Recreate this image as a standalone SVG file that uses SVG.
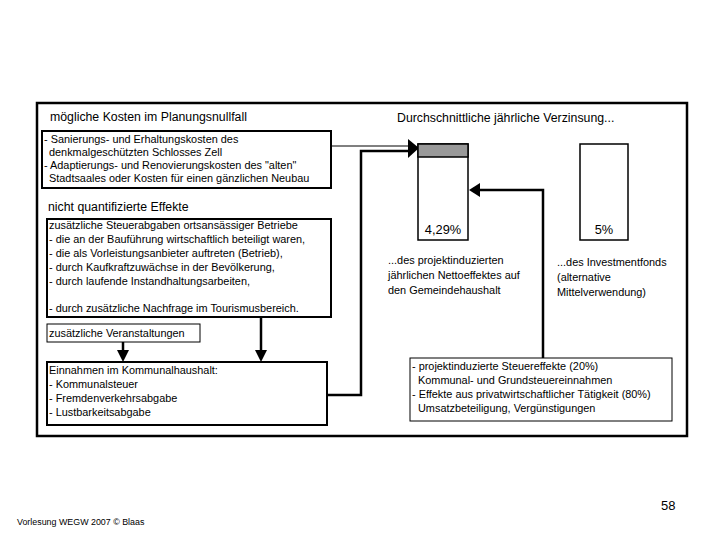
<svg xmlns="http://www.w3.org/2000/svg" width="720" height="540" viewBox="0 0 720 540">
<style>
text{font-family:"Liberation Sans",Arial,sans-serif;fill:#000}
.t{font-size:10.9px}
.h{font-size:12.3px}
.box{fill:#fff;stroke:#000;stroke-width:2}
.thin{fill:#fff;stroke:#000;stroke-width:1}
.ln{fill:none;stroke:#000}
</style>
<rect width="720" height="540" fill="#fff"/>
<rect id="frame" x="37" y="103" width="650" height="333" fill="#fff" stroke="#000" stroke-width="2.5"/>
<g id="titles">
<text class="h" x="50" y="121">mögliche Kosten im Planungsnullfall</text>
<text class="h" x="48" y="211">nicht quantifizierte Effekte</text>
<text class="h" x="397" y="122">Durchschnittliche jährliche Verzinsung...</text>
</g>
<g id="connectors">
<path class="ln" stroke-width="1" d="M331 146 H410"/>
<path class="ln" stroke-width="2.5" d="M327 395 H361 V151 H410"/>
<polygon points="408,139 419,148 408,158"/>
<path class="ln" stroke-width="2.5" d="M543 358 V190 H478"/>
<polygon points="469,190 480,183 480,197"/>
<path class="ln" stroke-width="2.5" d="M123 342 V352"/>
<polygon points="117,350 129,350 123,362"/>
<path class="ln" stroke-width="2.5" d="M261 317 V352"/>
<polygon points="255,350 267,350 261,362"/>
</g>
<g id="kosten">
<rect class="box" x="42" y="131" width="289" height="57"/>
<text class="t" x="44" y="143">- Sanierungs- und Erhaltungskosten des</text>
<text class="t" x="49" y="156">denkmalgeschützten Schlosses Zell</text>
<text class="t" x="44" y="169">- Adaptierungs- und Renovierungskosten des "alten"</text>
<text class="t" x="49" y="182">Stadtsaales oder Kosten für einen gänzlichen Neubau</text>
</g>
<g id="effekte">
<rect class="box" x="47" y="219" width="284" height="98"/>
<text class="t" x="49" y="229">zusätzliche Steuerabgaben ortsansässiger Betriebe</text>
<text class="t" x="49" y="243">- die an der Bauführung wirtschaftlich beteiligt waren,</text>
<text class="t" x="49" y="257">- die als Vorleistungsanbieter auftreten (Betrieb),</text>
<text class="t" x="49" y="271">- durch Kaufkraftzuwächse in der Bevölkerung,</text>
<text class="t" x="49" y="285">- durch laufende Instandhaltungsarbeiten,</text>
<text class="t" x="49" y="312">- durch zusätzliche Nachfrage im Tourismusbereich.</text>
</g>
<g id="veranstaltungen">
<rect class="thin" x="47" y="324" width="153" height="18"/>
<text class="t" x="49" y="337">zusätzliche Veranstaltungen</text>
</g>
<g id="einnahmen">
<rect class="box" x="47" y="362" width="280" height="63"/>
<text class="t" x="49" y="374">Einnahmen im Kommunalhaushalt:</text>
<text class="t" x="49" y="388">- Kommunalsteuer</text>
<text class="t" x="49" y="402">- Fremdenverkehrsabgabe</text>
<text class="t" x="49" y="416">- Lustbarkeitsabgabe</text>
</g>
<g id="bar1">
<rect x="418" y="144" width="50" height="96" fill="#fff" stroke="#000" stroke-width="1.5"/>
<rect x="418" y="144" width="50" height="13" fill="#999" stroke="#000" stroke-width="1.5"/>
<text x="443" y="234" font-size="12.8" text-anchor="middle">4,29%</text>
</g>
<g id="bar2">
<rect x="580" y="144" width="48" height="96" fill="#fff" stroke="#000" stroke-width="1.5"/>
<text x="604" y="234" font-size="12.8" text-anchor="middle">5%</text>
</g>
<g id="label1">
<text class="t" x="388" y="264">...des projektinduzierten</text>
<text class="t" x="388" y="279">jährlichen Nettoeffektes auf</text>
<text class="t" x="388" y="294">den Gemeindehaushalt</text>
</g>
<g id="label2">
<text class="t" x="557" y="266">...des Investmentfonds</text>
<text class="t" x="557" y="281">(alternative</text>
<text class="t" x="557" y="296">Mittelverwendung)</text>
</g>
<g id="steuereffekte">
<rect class="thin" x="410" y="358" width="262" height="63"/>
<text class="t" x="412" y="370">- projektinduzierte Steuereffekte  (20%)</text>
<text class="t" x="418" y="384">Kommunal- und Grundsteuereinnahmen</text>
<text class="t" x="412" y="398">- Effekte aus privatwirtschaftlicher Tätigkeit (80%)</text>
<text class="t" x="418" y="412">Umsatzbeteiligung, Vergünstigungen</text>
</g>
<g id="footer">
<text x="661" y="510" font-size="13">58</text>
<text x="17" y="525" font-size="8.9">Vorlesung WEGW 2007 © Blaas</text>
</g>
</svg>
